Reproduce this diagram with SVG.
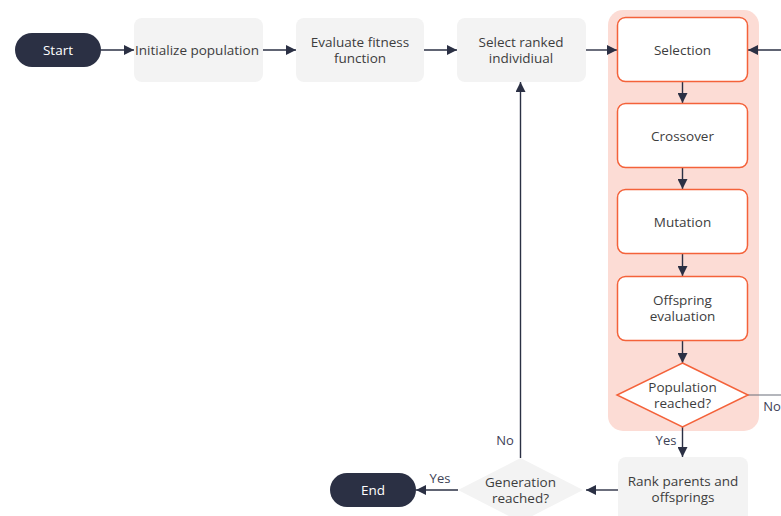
<svg xmlns="http://www.w3.org/2000/svg" width="781" height="516" viewBox="0 0 781 516">
<defs>
<marker id="ah" viewBox="0 0 10 10" refX="10" refY="5" markerWidth="10" markerHeight="10" markerUnits="userSpaceOnUse" orient="auto">
<path d="M0,0 L10,5 L0,10 Z" fill="#2b3044"/>
</marker>
<style>
text{font-family:"Open Sans","Liberation Sans",sans-serif;font-size:13.5px;fill:#3d3d3d;text-anchor:middle;dominant-baseline:central}
.pill{fill:#2b3044}
.pill-t{fill:#ffffff}
.gray{fill:#f3f3f3}
.orng{fill:#ffffff;stroke:#f4623a;stroke-width:1.5}
.ln{fill:none;stroke:#2b3044;stroke-width:1.4;marker-end:url(#ah)}
.lbl{fill:#3d4256;font-size:13px}
</style>
</defs>
<rect x="608" y="10" width="151" height="421" rx="15" fill="#fcdcd5"/>
<g id="connectors">
<line class="ln" x1="101" y1="50" x2="134" y2="50"/>
<line class="ln" x1="263" y1="50" x2="296" y2="50"/>
<line class="ln" x1="424" y1="50" x2="457" y2="50"/>
<line class="ln" x1="586" y1="50" x2="617" y2="50"/>
<line class="ln" x1="781" y1="50" x2="748" y2="50"/>
<line class="ln" x1="682.5" y1="82" x2="682.5" y2="103"/>
<line class="ln" x1="682.5" y1="168" x2="682.5" y2="189"/>
<line class="ln" x1="682.5" y1="254" x2="682.5" y2="276"/>
<line class="ln" x1="682.5" y1="341" x2="682.5" y2="363"/>
<line x1="748" y1="395" x2="781" y2="395" stroke="#6b6e7a" stroke-width="1.2"/>
<line class="ln" x1="682.5" y1="427" x2="682.5" y2="457"/>
<line class="ln" x1="618" y1="490" x2="586" y2="490"/>
<line class="ln" x1="458" y1="490" x2="416" y2="490"/>
<line class="ln" x1="520.5" y1="458" x2="520.5" y2="82"/>
<text class="lbl" x="772" y="406">No</text>
<text class="lbl" x="666" y="440">Yes</text>
<text class="lbl" x="440" y="478">Yes</text>
<text class="lbl" x="505" y="440">No</text>
</g>
<g id="start">
<rect class="pill" x="15" y="33" width="86" height="34" rx="17"/>
<text class="pill-t" x="58" y="50">Start</text>
</g>
<g id="init">
<rect class="gray" x="134" y="18" width="129" height="64" rx="8"/>
<text x="197" y="50">Initialize population</text>
</g>
<g id="evaluate">
<rect class="gray" x="296" y="18" width="128" height="64" rx="8"/>
<text x="360" y="42">Evaluate fitness<tspan x="360" dy="16">function</tspan></text>
</g>
<g id="select">
<rect class="gray" x="457" y="18" width="129" height="64" rx="8"/>
<text x="521" y="42">Select ranked<tspan x="521" dy="16">individiual</tspan></text>
</g>
<g id="selection">
<rect class="orng" x="617.5" y="17.5" width="130" height="64" rx="8"/>
<text x="682.5" y="50">Selection</text>
</g>
<g id="crossover">
<rect class="orng" x="617.5" y="103.5" width="130" height="64" rx="8"/>
<text x="682.5" y="136">Crossover</text>
</g>
<g id="mutation">
<rect class="orng" x="617.5" y="189.5" width="130" height="64" rx="8"/>
<text x="682.5" y="222">Mutation</text>
</g>
<g id="offspring">
<rect class="orng" x="617.5" y="276.5" width="130" height="64" rx="8"/>
<text x="682.5" y="300">Offspring<tspan x="682.5" dy="16">evaluation</tspan></text>
</g>
<g id="population">
<polygon class="orng" points="682.5,363 748,395 682.5,427 617,395"/>
<text x="682.5" y="387">Population<tspan x="682.5" dy="16">reached?</tspan></text>
</g>
<g id="rank">
<rect class="gray" x="618" y="457" width="130" height="70" rx="8"/>
<text x="683" y="481">Rank parents and<tspan x="683" dy="16">offsprings</tspan></text>
</g>
<g id="generation">
<polygon class="gray" points="520.5,458 583,490 520.5,522 458,490"/>
<text x="520.5" y="482">Generation<tspan x="520.5" dy="16">reached?</tspan></text>
</g>
<g id="end">
<rect class="pill" x="330" y="473" width="86" height="34" rx="17"/>
<text class="pill-t" x="373" y="490">End</text>
</g>
</svg>
